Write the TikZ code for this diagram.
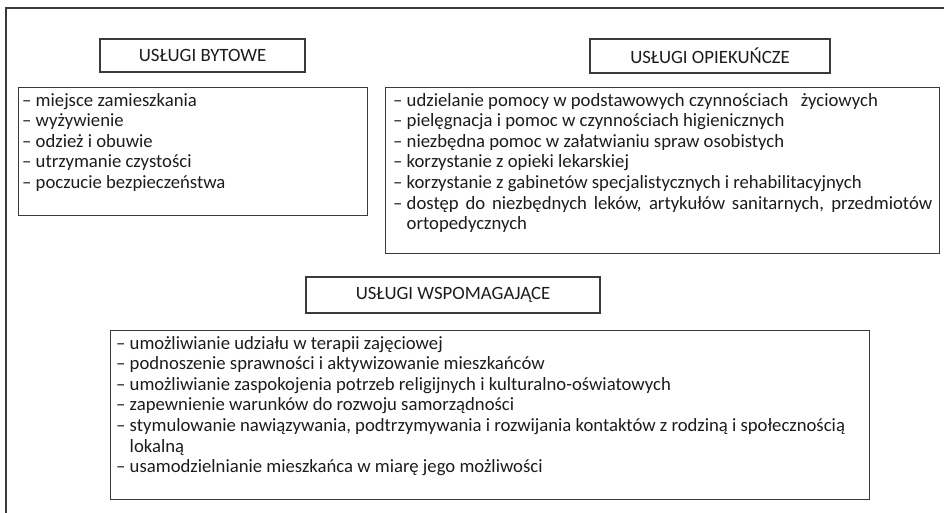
\documentclass[tikz,border=0pt]{standalone}
\usepackage{fontspec}
\setmainfont{Carlito}
\usetikzlibrary{positioning}
\definecolor{rule}{HTML}{3A3A3A}
\definecolor{ink}{HTML}{1C1C1C}
\newcommand{\hang}{\hphantom{– }}
\tikzset{
  headbox/.style={draw=rule, line width=1.2pt, text=ink, inner sep=0pt,
    font=\fontsize{18.8}{20.6}\selectfont},
  listbox/.style={draw=rule, line width=1.2pt, inner sep=0pt, anchor=north west},
  items/.style={text=ink, inner sep=0pt, align=left, anchor=north west,
    font=\fontsize{18.7}{20.6}\selectfont}
}
\begin{document}
\begin{tikzpicture}[x=1pt,y=-1pt]
\clip (0,0) rectangle (944,512);
\draw[rule, line width=1.2pt] (6,530)--(6,8)--(960,8);
\node[headbox, minimum width=205pt, minimum height=33pt] (byt) at (202.5,55.5) {USŁUGI BYTOWE};
\node[headbox, minimum width=240pt, minimum height=34pt] (opi) at (710,56) {USŁUGI OPIEKUŃCZE};
\node[headbox, minimum width=294pt, minimum height=36pt] (wsp) at (453,295) {USŁUGI WSPOMAGAJĄCE};
\node[listbox, minimum width=349pt, minimum height=128pt] (bytbox) at (18,87) {};
\node[listbox, minimum width=554pt, minimum height=166pt] (opibox) at (385,87) {};
\node[listbox, minimum width=759pt, minimum height=169pt] (wspbox) at (110,330) {};
\node[items] (bytlist) at ([shift={(4,6)}]bytbox.north west) {%
– miejsce zamieszkania\\
– wyżywienie\\
– odzież i obuwie\\
– utrzymanie czystości\\
– poczucie bezpieczeństwa};
\node[items] (opilist) at ([shift={(8,6)}]opibox.north west) {%
– udzielanie pomocy w podstawowych czynnościach\ \ \ życiowych\\
– pielęgnacja i pomoc w czynnościach higienicznych\\
– niezbędna pomoc w załatwianiu spraw osobistych\\
– korzystanie z opieki lekarskiej\\
– korzystanie z gabinetów specjalistycznych i rehabilitacyjnych\\
\makebox[539pt][s]{\mbox{– }dostęp do niezbędnych leków, artykułów sanitarnych, przedmiotów}\\
\hang ortopedycznych};
\node[items] (wsplist) at ([shift={(6,6)}]wspbox.north west) {%
– umożliwianie udziału w terapii zajęciowej\\
– podnoszenie sprawności i aktywizowanie mieszkańców\\
– umożliwianie zaspokojenia potrzeb religijnych i kulturalno-oświatowych\\
– zapewnienie warunków do rozwoju samorządności\\
– stymulowanie nawiązywania, podtrzymywania i rozwijania kontaktów z rodziną i społecznością\\
\hang lokalną\\
– usamodzielnianie mieszkańca w miarę jego możliwości};
\end{tikzpicture}
\end{document}
